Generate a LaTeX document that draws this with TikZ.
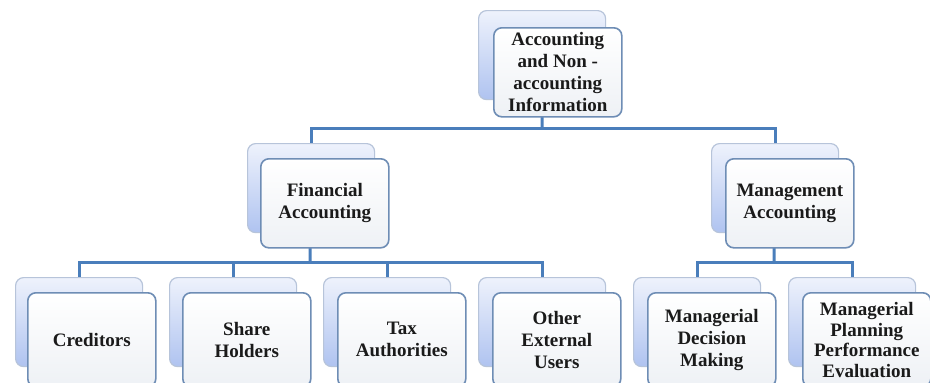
\documentclass[tikz,border=0pt]{standalone}
\usepackage{fontspec}
\setmainfont{Liberation Serif}
\usetikzlibrary{backgrounds,calc}
\definecolor{conncol}{HTML}{4A7EBB}
\definecolor{bborder}{HTML}{B7C4DA}
\definecolor{backtop}{HTML}{EEF2FC}
\definecolor{backbot}{HTML}{AFC3F0}
\definecolor{fborder}{HTML}{6E8DB5}
\definecolor{frontbot}{HTML}{EEF1F5}
\definecolor{txt}{HTML}{1A1A1A}
\tikzset{
  backbox/.style={draw=bborder, line width=1.2pt, rounded corners=8pt,
    top color=backtop, bottom color=backbot, anchor=north west,
    minimum width=127pt, minimum height=89pt, inner sep=0pt},
  frontbox/.style={draw=fborder, line width=1.6pt, rounded corners=8pt,
    top color=white, bottom color=frontbot, anchor=north west,
    minimum width=128pt, minimum height=89pt, inner sep=0pt,
    align=center, text=txt, font=\bfseries\fontsize{19}{22}\selectfont},
  lowbox/.style={frontbox, minimum height=94pt},
  conn/.style={draw=conncol, line width=3pt}
}
\begin{document}
\begin{tikzpicture}[x=1pt,y=-1pt]
\begin{pgfonlayer}{background}
\fill[white] (0,0) rectangle (930,383);
\end{pgfonlayer}
\useasboundingbox (0,0) rectangle (930,383);
\clip (0,0) rectangle (930,383);
% level 0
\node[backbox] (topB) at (478,10) {};
\node[frontbox] (topF) at (493,27) {Accounting\\and Non -\\accounting\\Information};
% level 1
\node[backbox] (finB) at (247,143) {};
\node[frontbox] (finF) at (260,158) {Financial\\Accounting};
\node[backbox] (mgmB) at (711,143) {};
\node[frontbox] (mgmF) at (725,158) {Management\\Accounting};
% level 2
\node[backbox] (credB) at (15,277) {};
\node[lowbox] (credF) at (27,292) {Creditors};
\node[backbox] (shB) at (169,277) {};
\node[lowbox] (shF) at (182,292) {Share\\Holders};
\node[backbox] (taxB) at (323,277) {};
\node[lowbox] (taxF) at (337,292) {Tax\\Authorities};
\node[backbox] (othB) at (478,277) {};
\node[lowbox] (othF) at (492,292) {Other\\External\\Users};
\node[backbox] (mdmB) at (633,277) {};
\node[lowbox] (mdmF) at (647,292) {Managerial\\Decision\\Making};
\node[backbox] (mppB) at (788,277) {};
\node[lowbox, font=\bfseries\fontsize{19}{20.5}\selectfont] (mppF) at (802,292) {Managerial\\Planning\\Performance\\Evaluation};
% connectors
\coordinate (bus1) at (542,128);
\coordinate (bus2) at (310,262);
\coordinate (bus3) at (774,262);
\begin{pgfonlayer}{background}
\draw[conn] (topB.center) -- (bus1);
\draw[conn] (finB.north) |- (bus1) -| (mgmB.north);
\draw[conn] (finB.center) -- (bus2);
\draw[conn] (credB.north) |- (bus2) -| (othB.north);
\draw[conn] (shB.north) -- (shB.north |- bus2);
\draw[conn] (taxB.north) -- (taxB.north |- bus2);
\draw[conn] (mgmB.center) -- (bus3);
\draw[conn] (mdmB.north) |- (bus3) -| (mppB.north);
\end{pgfonlayer}
\end{tikzpicture}
\end{document}
